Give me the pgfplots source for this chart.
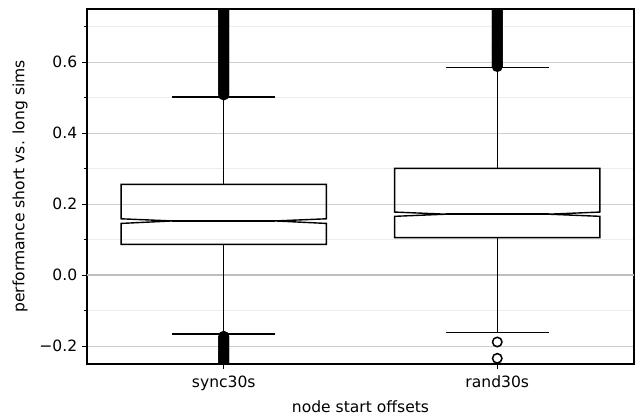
\documentclass[border=0pt]{standalone}
\usepackage{fontspec}
\setmainfont{DejaVu Sans}
\usepackage{pgfplots}
\pgfplotsset{compat=1.18}
\definecolor{majgrid}{HTML}{CFCFCF}
\definecolor{mingrid}{HTML}{EDEDED}
\definecolor{zeroline}{HTML}{BDBDBD}
\begin{document}
\begin{tikzpicture}
\begin{axis}[
  scale only axis, width=393.84pt, height=255.6pt,
  xmin=0.5, xmax=2.5, ymin=-0.25, ymax=0.75,
  clip marker paths=true,
  xtick={1,2}, xticklabels={sync30s,rand30s},
  ytick={-0.2,0,0.2,0.4,0.6}, yticklabels={−0.2,0.0,0.2,0.4,0.6},
  minor ytick={-0.1,0.1,0.3,0.5,0.7},
  xtick pos=left, ytick pos=left,
  tick align=outside, major tick length=3.5pt, minor tick length=2pt,
  tick style={black, line width=0.8pt},
  ymajorgrids, yminorgrids,
  major grid style={majgrid, line width=0.8pt},
  minor grid style={mingrid, line width=0.8pt},
  axis line style={black, line width=0.8pt},
  xlabel={node start offsets}, ylabel={performance short vs. long sims},
  every axis x label/.style={at={(axis description cs:0.5,-0.121)}, anchor=center},
  every axis y label/.style={at={(axis description cs:-0.1225,0.5)}, rotate=90, anchor=center},
  label style={font=\fontsize{11.2}{13}\selectfont},
  tick label style={font=\fontsize{11.2}{13}\selectfont},
  xticklabel style={yshift=-1.5pt},
]
% zero line
\addplot[zeroline, line width=1.44pt, forget plot] coordinates {(0.5,0) (2.5,0)};
% sync30s box
\addplot[black, line width=1pt, line join=miter] coordinates {
 (0.625,0.087) (1.375,0.087) (1.375,0.146) (1.1875,0.153) (1.375,0.159) (1.375,0.256)
 (0.625,0.256) (0.625,0.159) (0.8125,0.153) (0.625,0.146) (0.625,0.087) (1.375,0.087)};
\addplot[black, line width=1pt] coordinates {(0.8125,0.153) (1.1875,0.153)};
\addplot[black, line width=1pt] coordinates {(1,0.256) (1,0.502)};
\addplot[black, line width=1pt] coordinates {(1,0.087) (1,-0.165)};
\addplot[black, line width=1pt] coordinates {(0.8125,0.502) (1.1875,0.502)};
\addplot[black, line width=1pt] coordinates {(0.8125,-0.165) (1.1875,-0.165)};
% rand30s box
\addplot[black, line width=1pt, line join=miter] coordinates {
 (1.625,0.106) (2.375,0.106) (2.375,0.166) (2.1875,0.172) (2.375,0.178) (2.375,0.301)
 (1.625,0.301) (1.625,0.178) (1.8125,0.172) (1.625,0.166) (1.625,0.106) (2.375,0.106)};
\addplot[black, line width=1pt] coordinates {(1.8125,0.172) (2.1875,0.172)};
\addplot[black, line width=1pt] coordinates {(2,0.301) (2,0.585)};
\addplot[black, line width=1pt] coordinates {(2,0.106) (2,-0.161)};
\addplot[black, line width=1pt] coordinates {(1.8125,0.585) (2.1875,0.585)};
\addplot[black, line width=1pt] coordinates {(1.8125,-0.161) (2.1875,-0.161)};
% outliers
\pgfplotsset{outl/.style={only marks, mark=o, mark size=3.4pt, mark options={black, line width=1.1pt, fill=none}}}
\addplot[outl] coordinates {
(1,0.508)(1,0.511)(1,0.514)(1,0.517)(1,0.520)(1,0.523)(1,0.526)(1,0.529)(1,0.532)(1,0.535)
(1,0.538)(1,0.541)(1,0.544)(1,0.547)(1,0.550)(1,0.553)(1,0.556)(1,0.559)(1,0.562)(1,0.565)
(1,0.568)(1,0.571)(1,0.574)(1,0.577)(1,0.580)(1,0.583)(1,0.586)(1,0.589)(1,0.592)(1,0.595)
(1,0.598)(1,0.601)(1,0.604)(1,0.607)(1,0.610)(1,0.613)(1,0.616)(1,0.619)(1,0.622)(1,0.625)
(1,0.628)(1,0.631)(1,0.634)(1,0.637)(1,0.640)(1,0.643)(1,0.646)(1,0.649)(1,0.652)(1,0.655)
(1,0.658)(1,0.661)(1,0.664)(1,0.667)(1,0.670)(1,0.673)(1,0.676)(1,0.679)(1,0.682)(1,0.685)
(1,0.688)(1,0.691)(1,0.694)(1,0.697)(1,0.700)(1,0.703)(1,0.706)(1,0.709)(1,0.712)(1,0.715)
(1,0.718)(1,0.721)(1,0.724)(1,0.727)(1,0.730)(1,0.733)(1,0.736)(1,0.739)(1,0.742)(1,0.745)
(1,0.748)(1,0.751)(1,0.754)(1,0.757)(1,0.760)};
\addplot[outl] coordinates {
(1,-0.172)(1,-0.175)(1,-0.178)(1,-0.181)(1,-0.184)(1,-0.187)(1,-0.190)(1,-0.193)(1,-0.196)(1,-0.199)
(1,-0.202)(1,-0.205)(1,-0.208)(1,-0.211)(1,-0.214)(1,-0.217)(1,-0.220)(1,-0.223)(1,-0.226)(1,-0.229)
(1,-0.232)(1,-0.235)(1,-0.238)(1,-0.241)(1,-0.244)(1,-0.247)(1,-0.250)(1,-0.253)(1,-0.256)(1,-0.259)
(1,-0.262)};
\addplot[outl] coordinates {
(2,0.588)(2,0.591)(2,0.594)(2,0.597)(2,0.600)(2,0.603)(2,0.606)(2,0.609)(2,0.612)(2,0.615)
(2,0.618)(2,0.621)(2,0.624)(2,0.627)(2,0.630)(2,0.633)(2,0.636)(2,0.639)(2,0.642)(2,0.645)
(2,0.648)(2,0.651)(2,0.654)(2,0.657)(2,0.660)(2,0.663)(2,0.666)(2,0.669)(2,0.672)(2,0.675)
(2,0.678)(2,0.681)(2,0.684)(2,0.687)(2,0.690)(2,0.693)(2,0.696)(2,0.699)(2,0.702)(2,0.705)
(2,0.708)(2,0.711)(2,0.714)(2,0.717)(2,0.720)(2,0.723)(2,0.726)(2,0.729)(2,0.732)(2,0.735)
(2,0.738)(2,0.741)(2,0.744)(2,0.747)(2,0.750)(2,0.753)(2,0.756)(2,0.759)(2,0.762)};
\addplot[outl] coordinates {(2,-0.188) (2,-0.234)};
\end{axis}
\pgfresetboundingbox
\path ([shift={(-62.64pt,-38.16pt)}]current axis.south west) rectangle ([shift={(394.56pt,262.08pt)}]current axis.south west);
\end{tikzpicture}
\end{document}
